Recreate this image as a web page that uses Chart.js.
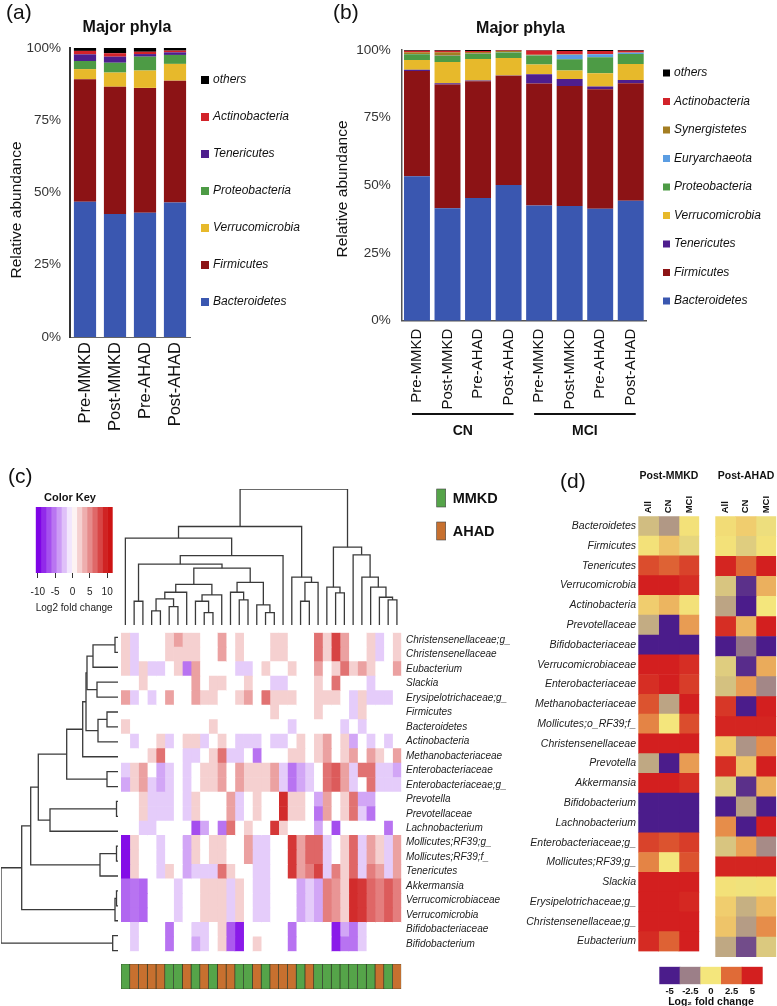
<!DOCTYPE html>
<html><head><meta charset="utf-8">
<script src="https://cdn.jsdelivr.net/npm/chart.js@4.4.1/dist/chart.umd.min.js"></script>
<style>
html,body{margin:0;padding:0;background:#fff;}
body{width:777px;height:1006px;position:relative;overflow:hidden;}
canvas{position:absolute;}
</style></head><body>
<canvas id="pa" width="330" height="440" style="left:0;top:0"></canvas>
<canvas id="pb" width="447" height="445" style="left:330px;top:0"></canvas>
<canvas id="pkey" width="125" height="155" style="left:0;top:460px"></canvas>
<canvas id="pcc" width="400" height="160" style="left:116px;top:470px"></canvas>
<canvas id="pcr" width="122" height="345" style="left:0;top:622px"></canvas>
<canvas id="pch" width="420" height="340" style="left:116px;top:622px"></canvas>
<canvas id="pca" width="290" height="35" style="left:116px;top:960px"></canvas>
<canvas id="pd1" width="262" height="500" style="left:440px;top:460px"></canvas>
<canvas id="pd2" width="72" height="500" style="left:705px;top:460px"></canvas>
<canvas id="pdbar" width="127" height="50" style="left:650px;top:958px"></canvas>
<script>
// ---------- data: (a) major phyla, all subjects
const aLabels = ['Pre-MMKD', 'Post-MMKD', 'Pre-AHAD', 'Post-AHAD'];
const aBacteroidetes = [46.8, 42.6, 43.0, 46.5];
const aFirmicutes = [42.4, 44.0, 43.2, 42.2];
const aVerrucomicrobia = [3.5, 4.9, 6.0, 5.8];
const aProteobacteria = [2.8, 3.4, 4.8, 3.1];
const aTenericutes = [2.3, 2.1, 0.9, 0.9];
const aActinobacteria = [1.2, 1.2, 0.8, 0.6];
const aOthers = [1.0, 1.8, 1.3, 0.9];

// ---------- data: (b) major phyla by CN / MCI
const bLabels = ['Pre-MMKD', 'Post-MMKD', 'Pre-AHAD', 'Post-AHAD', 'Pre-MMKD', 'Post-MMKD', 'Pre-AHAD', 'Post-AHAD'];
const bGroups = [['CN', 0, 3], ['MCI', 4, 7]];
const bBacteroidetes = [53.4, 41.5, 45.3, 50.1, 42.6, 42.4, 41.4, 44.3];
const bFirmicutes = [38.8, 45.8, 43.2, 40.4, 45.0, 44.3, 44.1, 43.4];
const bTenericutes = [0.5, 0.4, 0.2, 0.1, 3.4, 2.6, 1.0, 1.2];
const bVerrucomicrobia = [3.6, 7.9, 8.0, 6.4, 3.6, 3.1, 4.9, 5.9];
const bProteobacteria = [2.1, 2.2, 1.8, 2.1, 3.4, 4.2, 5.9, 3.7];
const bEuryarchaeota = [0.1, 0.1, 0.1, 0.1, 0.1, 1.6, 1.1, 0.5];
const bSynergistetes = [0.7, 1.3, 0.7, 0.4, 0.1, 0.2, 0.1, 0.1];
const bActinobacteria = [0.5, 0.5, 0.3, 0.2, 1.6, 1.2, 1.1, 0.6];
const bOthers = [0.3, 0.3, 0.4, 0.2, 0.2, 0.4, 0.4, 0.3];

// ---------- data: (c) log2 fold change heatmap, 22 taxa x 32 subjects
const cRows = ['Christensenellaceae;g_', 'Christensenellaceae', 'Eubacterium', 'Slackia', 'Erysipelotrichaceae;g_',
  'Firmicutes', 'Bacteroidetes', 'Actinobacteria', 'Methanobacteriaceae', 'Enterobacteriaceae', 'Enterobacteriaceae;g_',
  'Prevotella', 'Prevotellaceae', 'Lachnobacterium', 'Mollicutes;RF39;g_', 'Mollicutes;RF39;f_', 'Tenericutes',
  'Akkermansia', 'Verrucomicrobiaceae', 'Verrucomicrobia', 'Bifidobacteriaceae', 'Bifidobacterium'];
const cGroups = ['MMKD','AHAD','AHAD','AHAD','AHAD','MMKD','MMKD','AHAD','MMKD','AHAD','MMKD','AHAD','AHAD','MMKD','MMKD','AHAD',
  'MMKD','AHAD','AHAD','AHAD','MMKD','AHAD','MMKD','MMKD','MMKD','MMKD','MMKD','MMKD','MMKD','AHAD','MMKD','AHAD'];
const cValues = [
  [2,-2,0,0,0,2,4,2,2,0,0,4,0,2,0,0,0,2,2,0,0,0,6,2,8,4,0,0,2,-2,0,2],
  [2,-2,0,0,0,2,2,2,2,0,0,4,0,2,0,0,0,2,2,0,0,0,6,2,8,4,0,0,2,-2,0,2],
  [2,-2,2,-2,-2,0,2,-5.5,4,0,0,0,0,-2,-2,0,2,0,0,2,0,0,4,0,2,6,2,4,2,0,0,4],
  [0,0,2,0,0,0,0,0,4,0,2,2,0,0,2,0,0,-2,-2,0,0,0,2,0,6,0,0,0,-2,0,0,0],
  [4,-2,0,-2,0,4,0,0,4,2,2,0,0,2,4,0,6,2,2,2,0,0,2,2,2,0,-2,2,-2,-2,-2,0],
  [0,0,0,0,0,0,0,0,0,0,0,0,0,0,0,0,0,2,0,0,0,0,2,0,0,0,-2,2,0,0,0,0],
  [2,0,0,0,0,0,0,0,0,0,2,0,0,0,0,0,0,0,0,-2,0,0,0,0,0,-2,0,-2,0,0,0,0],
  [0,-2,0,0,2,-2,0,2,2,-2,0,2,0,-2,-2,-2,0,-2,-2,0,2,0,2,4,0,2,-3.5,0,-2,0,-2,0],
  [0,0,0,2,6,0,0,-2,-2,0,2,6,-2,-2,0,-5.5,0,0,0,2,2,0,2,4,0,2,4,0,4,2,0,4],
  [-2,2,4,0,-3.5,-2,0,-2,0,2,2,4,0,4,2,2,2,4,-2,-5.5,-3.5,-2,0,6,7,4,-2,6,6,-2,-2,-3.5],
  [-3.5,2,4,-2,-3.5,-2,0,-2,0,2,2,4,0,4,2,2,2,4,-2,-5.5,-3.5,-2,0,6,7,4,-2,0,6,-2,-2,-2],
  [0,0,2,-2,-2,-2,0,-2,2,0,0,0,4,-2,0,2,0,0,9,2,2,0,-3.5,4,0,2,6,-3.5,-3.5,0,0,0],
  [0,0,2,-2,-2,-2,0,-2,2,0,0,0,4,-2,0,2,0,0,9,2,2,0,-5.5,4,0,2,6,-2,-5.5,0,0,0],
  [0,0,-2,-2,0,0,0,0,-7,-3.5,0,-5.5,6,0,2,0,0,8.5,2,0,0,0,-3.5,0,-7,0,0,0,0,0,-5.5,0],
  [-9.5,2,0,0,-2,0,0,-3.5,2,0,2,2,0,0,4,-2,-2,0,0,8.5,4,6.5,6.5,-2,0,2,6.5,-2,4,2,-2,4],
  [-9.5,2,0,0,-2,0,0,-3.5,2,0,2,2,0,0,4,-2,-2,0,0,8.5,4,6.5,6.5,-2,0,2,6.5,-2,4,2,-2,4],
  [-9.5,2,0,0,-2,2,0,-3.5,-2,-2,-2,6,2,0,0,-2,-2,0,0,8.5,4,5.5,8,-2,5.5,2,6.5,-2,5.5,4,-2,4],
  [-6,-5.5,-6,0,0,0,-2,0,0,2,2,2,-2,2,0,-2,-2,0,0,0,-3.5,-2,-3.5,5.5,4.5,2,9,8.5,6.5,5.5,7,5.5],
  [-6,-5.5,-6,0,0,0,-2,0,0,2,2,2,-2,2,0,-2,-2,0,0,0,-3.5,-2,-3.5,5.5,4.5,2,9,8.5,6.5,5.5,7,5.5],
  [-6,-5.5,-6,0,0,0,-2,0,0,2,2,2,-2,2,0,-2,-2,0,0,0,-3.5,-2,-3.5,5.5,4.5,2,9,8.5,6.5,5.5,7,5.5],
  [0,-2,0,0,0,-5.5,0,0,-2,-2,0,2,-6.5,-9,0,0,0,0,0,-5.5,0,0,0,0,-9,-3.5,-5.5,-2,0,0,0,0],
  [0,-2,0,0,0,-5.5,0,0,-3.5,-2,0,2,-6.5,-9,0,2,0,0,0,-5.5,0,0,0,0,-9,-5.5,-5.5,-2,0,0,0,0]
];
// dendrograms: [left, right, merge height]; numbers are leaf indexes
const cColTree = [
  [[0, [[[1, 2, 23.7], [[[[[3, 4, 14], [5, 6, 18.3], 26], 7, 32.7], [[8, [9, 10, 12.3], 23.7], 11, 30], 40.5],
    [[12, [13, 14, 25], 32.7], [15, [16, 17, 12.3], 20], 42.5], 56.7], 60.7], 18, 69.3], 86.7],
   [19, [[20, 21, 23.7], 22, 42.5], 47.7], 98.3],
  [[23, [24, 25, 32], 37.7], [26, [27, [28, [29, [30, 31, 25], 27.7], 37.7], 47.7], 70], 77.7],
  135.7];
const cRowTree = [[[[[[[[[[0, 1, 3], 2, 25], [3, 4, 21], 31], [[5, 6, 11], 7, 20], 32], 8, 35.3], [9, 10, 11], 51.3],
  [[11, 12, 1.5], 13, 68], 79.7], [[14, 15, 1.5], 16, 18], 87.3], [[17, 18, 1.5], 19, 3], 96.3],
  [20, 21, 5.3], 117];
const keyTicks = [-10, -5, 0, 5, 10];

// ---------- data: (d) log2 fold change, post vs pre
const dRows = ['Bacteroidetes', 'Firmicutes', 'Tenericutes', 'Verrucomicrobia', 'Actinobacteria', 'Prevotellaceae',
  'Bifidobacteriaceae', 'Verrucomicrobiaceae', 'Enterobacteriaceae', 'Methanobacteriaceae', 'Mollicutes;o_RF39;f_',
  'Christensenellaceae', 'Prevotella', 'Akkermansia', 'Bifidobacterium', 'Lachnobacterium', 'Enterobacteriaceae;g_',
  'Mollicutes;RF39;g_', 'Slackia', 'Erysipelotrichaceae;g_', 'Christensenellaceae;g_', 'Eubacterium'];
const dCols = ['All', 'CN', 'MCI'];
const dPostMMKD = [[-1, -1.9, 0.1], [0.1, 0.7, -0.4], [3.5, 2.8, 3.8], [5, 5, 4.5], [0.5, 1.0, 0.1], [-1.4, -5, 1.5],
  [-5, -5, -5], [5, 5, 4.5], [4.5, 5, 4.0], [3.3, -1.6, 5], [2.0, 0, 3.5], [5, 5, 5], [-1.5, -5, 1.5], [5, 5, 4.5],
  [-5, -5, -5], [-5, -5, -5], [3.8, 3.3, 4.0], [2.0, 0, 3.3], [5, 5, 5], [5, 5, 4.7], [5, 5, 5], [4.6, 2.8, 5]];
const dPostAHAD = [[0.2, 0.5, -0.2], [0.1, -0.6, 0.1], [4.8, 2.6, 5], [-0.8, -4.5, 1.1], [-1.6, -5, 0], [4.5, 1.0, 5],
  [-5, -2.8, -5], [-0.6, -4.6, 1.2], [-0.9, 1.5, -2.3], [4.2, -5, 5], [4.8, 4.8, 4.8], [0.5, -2.0, 1.8], [4.5, 0.7, 5],
  [-0.6, -4.5, 1.1], [-5, -1.7, -5], [1.8, -5, 5], [-0.8, 1.4, -2.2], [4.8, 4.8, 4.8], [0.1, -0.1, 0.1],
  [0.5, -1.3, 0.9], [0.7, -1.8, 1.8], [-1.5, -3.8, -0.7]];
const dBarTicks = ['-5', '-2.5', '0', '2.5', '5'];

// ---------- styles
const FAM = "'Liberation Sans', Arial, sans-serif";
const F = (size, style) => (style ? style + ' ' : '') + size + 'px ' + FAM;
Chart.defaults.font.family = FAM;
Chart.defaults.color = '#111';
Chart.defaults.animation = false;
Chart.defaults.responsive = false;
Chart.defaults.events = [];
Chart.defaults.plugins.legend.display = false;
Chart.defaults.plugins.tooltip.enabled = false;

const phylumColors = {Bacteroidetes: '#3a57b0', Firmicutes: '#8c1315', Tenericutes: '#4e1e8e', Verrucomicrobia: '#e7b92b',
  Proteobacteria: '#4d9b45', Euryarchaeota: '#5b9de2', Synergistetes: '#a47e22', Actinobacteria: '#d2232a', others: '#000000'};
const groupColors = {MMKD: '#55a449', AHAD: '#c7702f'};
const dStops = [[-5, [75, 28, 139]], [-2.5, [156, 127, 136]], [0, [244, 230, 124]], [2.5, [224, 107, 55]], [5, [211, 31, 31]]];

const rgb = c => 'rgb(' + c.map(Math.round).join(',') + ')';
function colorC(v) {
  const t = Math.min(Math.abs(v) / 10, 1);
  return v < 0 ? rgb([255 - t * 130, 255 - t * 255, 255 - t * 25]) : rgb([255 - t * 50, 255 - t * 235, 255 - t * 235]);
}
function colorD(v) {
  v = Math.max(-5, Math.min(5, v));
  for (let k = 0; k < dStops.length - 1; k++) {
    const a = dStops[k][0], ca = dStops[k][1], b = dStops[k + 1][0], cb = dStops[k + 1][1];
    if (v <= b) { const t = (v - a) / (b - a); return rgb(ca.map((c, i) => c + (cb[i] - c) * t)); }
  }
}

// draw free text (titles, panel letters)
const texts = items => ({
  id: 'texts',
  afterDraw(chart) {
    const ctx = chart.ctx;
    items.forEach(t => {
      ctx.save();
      ctx.font = t.font; ctx.fillStyle = t.color || '#111';
      ctx.textAlign = t.align || 'left'; ctx.textBaseline = 'middle';
      ctx.translate(t.x, t.y); if (t.rot) ctx.rotate(t.rot);
      ctx.fillText(t.text, 0, 0);
      ctx.restore();
    });
  }
});
// legend to the right of the stacked bars, top item = last dataset
const sideLegend = (x0, y0, dy, box) => ({
  id: 'sideLegend',
  afterDraw(chart) {
    const ctx = chart.ctx;
    chart.data.datasets.slice().reverse().forEach((d, i) => {
      const y = y0 + i * dy;
      ctx.fillStyle = d.backgroundColor; ctx.fillRect(x0, y - box / 2, box, box);
      ctx.fillStyle = '#111'; ctx.font = F(12, 'italic'); ctx.textAlign = 'left'; ctx.textBaseline = 'middle';
      ctx.fillText(d.label, x0 + box + 4, y);
    });
  }
});

// ---------- (a)
const aSeries = [['Bacteroidetes', aBacteroidetes], ['Firmicutes', aFirmicutes], ['Verrucomicrobia', aVerrucomicrobia],
  ['Proteobacteria', aProteobacteria], ['Tenericutes', aTenericutes], ['Actinobacteria', aActinobacteria], ['others', aOthers]];
new Chart('pa', {
  type: 'bar',
  data: {labels: aLabels, datasets: aSeries.map(([n, v]) => ({label: n, data: v, backgroundColor: phylumColors[n], barPercentage: 0.74, categoryPercentage: 1}))},
  options: {
    layout: {padding: {left: 0, top: 48, right: 140, bottom: 0}},
    scales: {
      x: {stacked: true, grid: {display: false, drawTicks: false}, border: {color: '#666', width: 1},
        ticks: {minRotation: 90, maxRotation: 90, autoSkip: false, font: {size: 16.5}, color: '#111', padding: 5},
        afterFit: s => { s.height = 103; }},
      y: {stacked: true, min: 0, max: 100, grid: {display: false, drawTicks: false}, border: {color: '#333', width: 2},
        ticks: {stepSize: 25, callback: v => v + '%', font: {size: 13.5}, color: '#333', padding: 9},
        afterFit: s => { s.width = 70; }}
    }
  },
  plugins: [texts([
    {text: '(a)', x: 6, y: 13, font: F(21)},
    {text: 'Major phyla', x: 127, y: 28, font: F(16, 'bold'), align: 'center'},
    {text: 'Relative abundance', x: 17, y: 210, font: F(15.5), align: 'center', rot: -Math.PI / 2}
  ]), sideLegend(201, 80, 37, 8)]
});

// ---------- (b)
const bSeries = [['Bacteroidetes', bBacteroidetes], ['Firmicutes', bFirmicutes], ['Tenericutes', bTenericutes],
  ['Verrucomicrobia', bVerrucomicrobia], ['Proteobacteria', bProteobacteria], ['Euryarchaeota', bEuryarchaeota],
  ['Synergistetes', bSynergistetes], ['Actinobacteria', bActinobacteria], ['others', bOthers]];
new Chart('pb', {
  type: 'bar',
  data: {labels: bLabels, datasets: bSeries.map(([n, v]) => ({label: n, data: v, backgroundColor: phylumColors[n], barPercentage: 0.85, categoryPercentage: 1}))},
  options: {
    layout: {padding: {left: 0, top: 50, right: 131, bottom: 0}},
    scales: {
      x: {stacked: true, grid: {display: false, drawTicks: false}, border: {color: '#555', width: 1.5},
        ticks: {minRotation: 90, maxRotation: 90, autoSkip: false, font: {size: 15}, color: '#111', padding: 8},
        afterFit: s => { s.height = 124.3; }},
      y: {stacked: true, min: 0, max: 100, grid: {display: false, drawTicks: false}, border: {color: '#555', width: 1.5},
        ticks: {stepSize: 25, callback: v => v + '%', font: {size: 13.5}, color: '#333', padding: 11},
        afterFit: s => { s.width = 71.7; }}
    }
  },
  plugins: [texts([
    {text: '(b)', x: 3, y: 13, font: F(21)},
    {text: 'Major phyla', x: 190.5, y: 29, font: F(16, 'bold'), align: 'center'},
    {text: 'Relative abundance', x: 13, y: 189, font: F(15.5), align: 'center', rot: -Math.PI / 2}
  ]), sideLegend(333, 73, 28.5, 7), {
    id: 'groupLines',
    afterDraw(chart) {
      const ctx = chart.ctx, xs = chart.scales.x;
      bGroups.forEach(g => {
        const x1 = xs.getPixelForValue(g[1]) - 5, x2 = xs.getPixelForValue(g[2]) + 5;
        ctx.fillStyle = '#111'; ctx.fillRect(x1, 413, x2 - x1, 2);
        ctx.font = F(14, 'bold'); ctx.textAlign = 'center'; ctx.textBaseline = 'middle';
        ctx.fillText(g[0], (x1 + x2) / 2, 431);
      });
    }
  }]
});

// ---------- (c) color key
const keyBins = [];
for (let k = 0; k < 15; k++) { const lo = -10.6 + k * 1.48; keyBins.push([lo, lo + 1.48]); }
new Chart('pkey', {
  type: 'bar',
  data: {labels: [''], datasets: keyBins.map(b => ({data: [b], backgroundColor: colorC((b[0] + b[1]) / 2), grouped: false, barPercentage: 1, categoryPercentage: 1}))},
  options: {
    indexAxis: 'y',
    layout: {padding: {left: 35.7, right: 12.3, top: 47, bottom: 0}},
    scales: {
      y: {display: false},
      x: {type: 'linear', min: -10.6, max: 11.6, afterBuildTicks: s => { s.ticks = keyTicks.map(v => ({value: v})); },
        grid: {drawOnChartArea: false, drawTicks: true, tickLength: 5, color: '#333'}, border: {display: false},
        ticks: {font: {size: 10}, color: '#222', padding: 8, autoSkip: false, minRotation: 0, maxRotation: 0},
        title: {display: true, text: 'Log2 fold change', font: {size: 11}, color: '#222', padding: {top: 0, bottom: 0}},
        afterFit: s => { s.height = 42; }}
    }
  },
  plugins: [texts([
    {text: '(c)', x: 8, y: 17.5, font: F(21)},
    {text: 'Color Key', x: 70, y: 37.5, font: F(11, 'bold'), align: 'center'}
  ])]
});

// ---------- (c) dendrograms
function dendroDatasets(tree, horizontal) {
  const segs = [];
  function walk(n) {
    if (typeof n === 'number') return {p: n + 0.5, h: 0};
    const a = walk(n[0]), b = walk(n[1]), h = n[2];
    segs.push([[a.p, a.h], [a.p, h], [b.p, h], [b.p, b.h]]);
    return {p: (a.p + b.p) / 2, h: h};
  }
  walk(tree);
  return segs.map(s => ({data: s.map(pt => horizontal ? {x: pt[1], y: pt[0]} : {x: pt[0], y: pt[1]}),
    showLine: true, borderColor: '#3a3a3a', borderWidth: 1.3, pointRadius: 0}));
}
new Chart('pcc', {
  type: 'scatter',
  data: {datasets: dendroDatasets(cColTree, false)},
  options: {
    layout: {padding: {left: 5, right: 114.7, top: 19, bottom: 5}},
    scales: {x: {display: false, min: 0, max: cGroups.length}, y: {display: false, min: 0, max: 135.7}}
  },
  plugins: [{
    id: 'groupLegend',
    afterDraw(chart) {
      const ctx = chart.ctx;
      Object.keys(groupColors).forEach((name, i) => {
        const y = 19 + i * 33;
        ctx.fillStyle = groupColors[name]; ctx.fillRect(320.7, y, 9, 18);
        ctx.strokeStyle = '#444'; ctx.lineWidth = 0.6; ctx.strokeRect(320.7, y, 9, 18);
        ctx.fillStyle = '#111'; ctx.font = F(14.5, 'bold'); ctx.textAlign = 'left'; ctx.textBaseline = 'middle';
        ctx.fillText(name, 336.7, y + 10);
      });
    }
  }]
});
new Chart('pcr', {
  type: 'scatter',
  data: {datasets: dendroDatasets(cRowTree, true)},
  options: {
    layout: {padding: {left: 1, right: 4, top: 8, bottom: 9}},
    scales: {x: {display: false, min: 0, max: 117, reverse: true}, y: {display: false, min: 0, max: cRows.length, reverse: true}}
  }
});

// ---------- (c) heatmap
new Chart('pch', {
  type: 'bar',
  data: {labels: cRows, datasets: cGroups.map((g, j) => ({
    data: cRows.map(() => [j, j + 1]), backgroundColor: cRows.map((r, i) => colorC(cValues[i][j])),
    grouped: false, barPercentage: 1, categoryPercentage: 1}))},
  options: {
    indexAxis: 'y',
    layout: {padding: {left: 5, right: 0, top: 8, bottom: 4}},
    scales: {
      x: {display: false, min: 0, max: cGroups.length},
      y: {position: 'right', grid: {display: false, drawTicks: false}, border: {display: false},
        ticks: {font: {size: 10, style: 'italic'}, color: '#222', padding: 4.7, autoSkip: false},
        afterFit: s => { s.width = 134.7; }}
    }
  }
});
new Chart('pca', {
  type: 'bar',
  data: {labels: ['group'], datasets: cGroups.map((g, j) => ({
    data: [[j, j + 1]], backgroundColor: groupColors[g], borderColor: '#2e3a26', borderWidth: 0.7, borderSkipped: false,
    grouped: false, barPercentage: 1, categoryPercentage: 1}))},
  options: {
    indexAxis: 'y',
    layout: {padding: {left: 5, right: 4.7, top: 4, bottom: 6}},
    scales: {x: {display: false, min: 0, max: cGroups.length}, y: {display: false}}
  }
});

// ---------- (d) heatmaps
function dChart(id, values, padLeft, showRows, title, extra) {
  return new Chart(id, {
    type: 'bar',
    data: {labels: dRows, datasets: dCols.map((c, j) => ({
      data: dRows.map(() => [j, j + 1]), backgroundColor: dRows.map((r, i) => colorD(values[i][j])),
      grouped: false, barPercentage: 1, categoryPercentage: 1}))},
    options: {
      indexAxis: 'y',
      layout: {padding: {left: padLeft, right: showRows ? 2.7 : 0.7, top: 0, bottom: 3}},
      scales: {
        x: {type: 'linear', position: 'top', min: 0, max: dCols.length,
          afterBuildTicks: s => { s.ticks = dCols.map((c, i) => ({value: i + 0.5})); },
          grid: {display: false, drawTicks: false}, border: {display: false},
          ticks: {callback: (v, i) => dCols[i], minRotation: 90, maxRotation: 90, labelOffset: 11.4,
            font: {size: 9.5, weight: 'bold'}, color: '#111', padding: 3},
          afterFit: s => { s.height = 56.3; }},
        y: {display: showRows, grid: {display: false, drawTicks: false}, border: {display: false},
          ticks: {font: {size: 10.5, style: 'italic'}, color: '#222', padding: 2.3, autoSkip: false},
          afterFit: s => { s.width = showRows ? 198.3 : 0; }}
      }
    },
    plugins: [texts(extra.concat([{text: title.text, x: title.x, y: 16, font: F(10.5, 'bold'), align: 'center'}]))]
  });
}
dChart('pd1', dPostMMKD, 0, true, {text: 'Post-MMKD', x: 229}, [{text: '(d)', x: 120, y: 22, font: F(21)}]);
dChart('pd2', dPostAHAD, 10.3, false, {text: 'Post-AHAD', x: 41}, []);

new Chart('pdbar', {
  type: 'bar',
  data: {labels: dBarTicks, datasets: [{data: dBarTicks.map(() => 1), backgroundColor: dStops.map(s => rgb(s[1])), barPercentage: 1, categoryPercentage: 1}]},
  options: {
    layout: {padding: {left: 9.3, right: 14.3, top: 8.7, bottom: 0}},
    scales: {
      y: {display: false, min: 0, max: 1},
      x: {grid: {display: false, drawTicks: false}, border: {display: false},
        ticks: {font: {size: 9.5, weight: 'bold'}, color: '#111', padding: 1},
        title: {display: true, text: 'Log\u2082 fold change', font: {size: 10.5, weight: 'bold'}, color: '#111', padding: {top: 0, bottom: 0}},
        afterFit: s => { s.height = 23.7; }}
    }
  }
});
</script>
</body></html>
